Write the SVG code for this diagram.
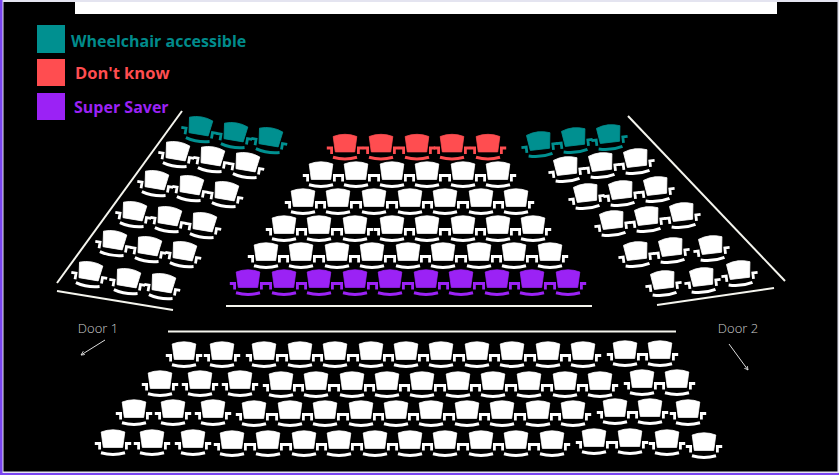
<svg xmlns="http://www.w3.org/2000/svg" xmlns:xlink="http://www.w3.org/1999/xlink" width="839" height="475" viewBox="0 0 839 475">
<style>
.ln{stroke:#f5f5ee;stroke-width:2;fill:none}
.w{color:#fff}.t{color:#009090}.r{color:#ff4d50}.p{color:#9b22f5}
.lg{font-family:"Open Sans",sans-serif;font-weight:700;font-size:16px}
.dr{font-family:"Open Sans",sans-serif;font-weight:300;font-size:13px;fill:#ccc;text-anchor:middle}
.ar{stroke:#ddd;stroke-width:1;fill:none}
</style>
<defs>
<g id="seat">
<path fill="currentColor" stroke="currentColor" stroke-width="0.8" stroke-linejoin="round" d="M-11.8,-7 Q-6,-9.200 0,-9.200 Q6,-9.200 11.8,-7 L9.700,8.400 L-9.700,8.400 Z"/>
<path fill="none" stroke="currentColor" stroke-width="3" d="M-12,13.800 Q0,17 12,13.800"/>
<path fill="none" stroke="currentColor" stroke-width="2.800" d="M-18.200,4.500 H-13.400 V10.500 M13.400,10.500 V4.500 H18.200"/>
</g>
<marker id="ah" markerWidth="5" markerHeight="5" refX="4" refY="2" orient="auto"><path d="M0,0 L4,2 L0,4" fill="none" stroke="#ddd" stroke-width="0.8"/></marker>
</defs>
<rect width="839" height="475" fill="#e4e4f0"/>
<rect x="0" y="0" width="2.500" height="475" fill="#7a45f0"/>
<rect x="0" y="473" width="839" height="2" fill="#7a45f0"/>
<rect x="3.500" y="2" width="834" height="469.500" fill="#000"/>
<rect id="screen" x="75" y="2" width="702" height="12" fill="#fff"/>
<g id="legend">
<rect x="37" y="25" width="28" height="28" fill="#009090"/>
<text class="lg" x="71" y="47" fill="#008b8b">Wheelchair accessible</text>
<rect x="37" y="59" width="28" height="27" fill="#ff4d50"/>
<text class="lg" x="75" y="79" fill="#ff4d50" style="font-size:16.500px">Don't know</text>
<rect x="37" y="93" width="28" height="27" fill="#9b22f5"/>
<text class="lg" x="74" y="113" fill="#9b22f5">Super Saver</text>
</g>
<g id="connectors">
<path class="ln" d="M57,283 L182,111"/>
<path class="ln" d="M57,291 L173,310"/>
<path class="ln" d="M226,306 H592"/>
<path class="ln" d="M168,331.500 H676"/>
<path class="ln" d="M628,116 L785,281"/>
<path class="ln" d="M657,305 L774,288"/>
<path class="ar" d="M105,340 L81,355" marker-end="url(#ah)"/>
<path class="ar" d="M729,344 L748,370" marker-end="url(#ah)"/>
</g>
<g id="door-1"><text class="dr" x="98" y="333">Door 1</text></g>
<g id="door-2"><text class="dr" x="738" y="333">Door 2</text></g>
<g id="left-block">
<g class="t">
<use xlink:href="#seat" href="#seat" transform="translate(200 126) rotate(9.500)"/>
<use xlink:href="#seat" href="#seat" transform="translate(235 132) rotate(9.500)"/>
<use xlink:href="#seat" href="#seat" transform="translate(270 137) rotate(9.500)"/>
</g>
<g class="w">
<use xlink:href="#seat" href="#seat" transform="translate(177 151) rotate(9.500)"/>
<use xlink:href="#seat" href="#seat" transform="translate(212 156) rotate(9.500)"/>
<use xlink:href="#seat" href="#seat" transform="translate(247 162) rotate(9.500)"/>
<use xlink:href="#seat" href="#seat" transform="translate(156 180) rotate(9.500)"/>
<use xlink:href="#seat" href="#seat" transform="translate(191 185) rotate(9.500)"/>
<use xlink:href="#seat" href="#seat" transform="translate(226 191) rotate(9.500)"/>
<use xlink:href="#seat" href="#seat" transform="translate(134 211) rotate(9.500)"/>
<use xlink:href="#seat" href="#seat" transform="translate(169 216) rotate(9.500)"/>
<use xlink:href="#seat" href="#seat" transform="translate(204 222) rotate(9.500)"/>
<use xlink:href="#seat" href="#seat" transform="translate(114 240) rotate(9.500)"/>
<use xlink:href="#seat" href="#seat" transform="translate(149 246) rotate(9.500)"/>
<use xlink:href="#seat" href="#seat" transform="translate(184 251) rotate(9.500)"/>
<use xlink:href="#seat" href="#seat" transform="translate(90 271) rotate(9.500)"/>
<use xlink:href="#seat" href="#seat" transform="translate(128 278) rotate(9.500)"/>
<use xlink:href="#seat" href="#seat" transform="translate(163 283) rotate(9.500)"/>
</g>
</g>
<g id="right-block">
<g class="t">
<use xlink:href="#seat" href="#seat" transform="translate(539 141) rotate(-6.500)"/>
<use xlink:href="#seat" href="#seat" transform="translate(574 137) rotate(-6.500)"/>
<use xlink:href="#seat" href="#seat" transform="translate(609 134) rotate(-6.500)"/>
</g>
<g class="w">
<use xlink:href="#seat" href="#seat" transform="translate(566 166) rotate(-6.500)"/>
<use xlink:href="#seat" href="#seat" transform="translate(601 162) rotate(-6.500)"/>
<use xlink:href="#seat" href="#seat" transform="translate(636 158) rotate(-6.500)"/>
<use xlink:href="#seat" href="#seat" transform="translate(586 193) rotate(-6.500)"/>
<use xlink:href="#seat" href="#seat" transform="translate(621 190) rotate(-6.500)"/>
<use xlink:href="#seat" href="#seat" transform="translate(656 186) rotate(-6.500)"/>
<use xlink:href="#seat" href="#seat" transform="translate(612 220) rotate(-6.500)"/>
<use xlink:href="#seat" href="#seat" transform="translate(647 216) rotate(-6.500)"/>
<use xlink:href="#seat" href="#seat" transform="translate(682 212) rotate(-6.500)"/>
<use xlink:href="#seat" href="#seat" transform="translate(636 251) rotate(-6.500)"/>
<use xlink:href="#seat" href="#seat" transform="translate(671 247) rotate(-6.500)"/>
<use xlink:href="#seat" href="#seat" transform="translate(711 245) rotate(-6.500)"/>
<use xlink:href="#seat" href="#seat" transform="translate(663 280) rotate(-6.500)"/>
<use xlink:href="#seat" href="#seat" transform="translate(702 277) rotate(-6.500)"/>
<use xlink:href="#seat" href="#seat" transform="translate(739 270) rotate(-6.500)"/>
</g>
</g>
<g id="centre-block">
<g class="r">
<use xlink:href="#seat" href="#seat" x="345" y="143.500"/><use xlink:href="#seat" href="#seat" x="381" y="143.500"/><use xlink:href="#seat" href="#seat" x="417" y="143.500"/><use xlink:href="#seat" href="#seat" x="452" y="143.500"/><use xlink:href="#seat" href="#seat" x="488" y="143.500"/>
</g>
<g class="w">
<use xlink:href="#seat" href="#seat" x="321" y="171"/><use xlink:href="#seat" href="#seat" x="356" y="171"/><use xlink:href="#seat" href="#seat" x="392" y="171"/><use xlink:href="#seat" href="#seat" x="427" y="171"/><use xlink:href="#seat" href="#seat" x="463" y="171"/><use xlink:href="#seat" href="#seat" x="498" y="171"/>
<use xlink:href="#seat" href="#seat" x="303" y="198"/><use xlink:href="#seat" href="#seat" x="338" y="198"/><use xlink:href="#seat" href="#seat" x="374" y="198"/><use xlink:href="#seat" href="#seat" x="410" y="198"/><use xlink:href="#seat" href="#seat" x="445" y="198"/><use xlink:href="#seat" href="#seat" x="481" y="198"/><use xlink:href="#seat" href="#seat" x="516" y="198"/>
<use xlink:href="#seat" href="#seat" x="284" y="225"/><use xlink:href="#seat" href="#seat" x="319" y="225"/><use xlink:href="#seat" href="#seat" x="355" y="225"/><use xlink:href="#seat" href="#seat" x="392" y="225"/><use xlink:href="#seat" href="#seat" x="427" y="225"/><use xlink:href="#seat" href="#seat" x="463" y="225"/><use xlink:href="#seat" href="#seat" x="498" y="225"/><use xlink:href="#seat" href="#seat" x="533" y="225"/>
<use xlink:href="#seat" href="#seat" x="266" y="252"/><use xlink:href="#seat" href="#seat" x="301" y="252"/><use xlink:href="#seat" href="#seat" x="337" y="252"/><use xlink:href="#seat" href="#seat" x="372" y="252"/><use xlink:href="#seat" href="#seat" x="408" y="252"/><use xlink:href="#seat" href="#seat" x="443" y="252"/><use xlink:href="#seat" href="#seat" x="479" y="252"/><use xlink:href="#seat" href="#seat" x="514" y="252"/><use xlink:href="#seat" href="#seat" x="550" y="252"/>
</g>
<g class="p">
<use xlink:href="#seat" href="#seat" x="248" y="279"/><use xlink:href="#seat" href="#seat" x="284" y="279"/><use xlink:href="#seat" href="#seat" x="319" y="279"/><use xlink:href="#seat" href="#seat" x="355" y="279"/><use xlink:href="#seat" href="#seat" x="390" y="279"/><use xlink:href="#seat" href="#seat" x="426" y="279"/><use xlink:href="#seat" href="#seat" x="461" y="279"/><use xlink:href="#seat" href="#seat" x="497" y="279"/><use xlink:href="#seat" href="#seat" x="532" y="279"/><use xlink:href="#seat" href="#seat" x="568" y="279"/>
</g>
</g>
<g id="front-block" class="w">
<use xlink:href="#seat" href="#seat" x="184" y="351"/><use xlink:href="#seat" href="#seat" x="222" y="351"/><use xlink:href="#seat" href="#seat" x="264" y="351"/><use xlink:href="#seat" href="#seat" x="300" y="351"/><use xlink:href="#seat" href="#seat" x="335" y="351"/><use xlink:href="#seat" href="#seat" x="371" y="351"/><use xlink:href="#seat" href="#seat" x="406" y="351"/><use xlink:href="#seat" href="#seat" x="441" y="351"/><use xlink:href="#seat" href="#seat" x="477" y="351"/><use xlink:href="#seat" href="#seat" x="512" y="351"/><use xlink:href="#seat" href="#seat" x="548" y="351"/><use xlink:href="#seat" href="#seat" x="583" y="351"/><use xlink:href="#seat" href="#seat" x="625" y="350"/><use xlink:href="#seat" href="#seat" x="660" y="350"/>
<use xlink:href="#seat" href="#seat" x="160" y="380"/><use xlink:href="#seat" href="#seat" x="200" y="380"/><use xlink:href="#seat" href="#seat" x="240" y="380"/><use xlink:href="#seat" href="#seat" x="281" y="381"/><use xlink:href="#seat" href="#seat" x="316" y="381"/><use xlink:href="#seat" href="#seat" x="352" y="381"/><use xlink:href="#seat" href="#seat" x="387" y="381"/><use xlink:href="#seat" href="#seat" x="422" y="381"/><use xlink:href="#seat" href="#seat" x="458" y="381"/><use xlink:href="#seat" href="#seat" x="493" y="381"/><use xlink:href="#seat" href="#seat" x="529" y="381"/><use xlink:href="#seat" href="#seat" x="565" y="381"/><use xlink:href="#seat" href="#seat" x="600" y="381"/><use xlink:href="#seat" href="#seat" x="642" y="379"/><use xlink:href="#seat" href="#seat" x="677" y="379"/>
<use xlink:href="#seat" href="#seat" x="134" y="409"/><use xlink:href="#seat" href="#seat" x="173" y="409"/><use xlink:href="#seat" href="#seat" x="213" y="409"/><use xlink:href="#seat" href="#seat" x="254" y="410"/><use xlink:href="#seat" href="#seat" x="290" y="410"/><use xlink:href="#seat" href="#seat" x="325" y="410"/><use xlink:href="#seat" href="#seat" x="361" y="410"/><use xlink:href="#seat" href="#seat" x="396" y="410"/><use xlink:href="#seat" href="#seat" x="431" y="410"/><use xlink:href="#seat" href="#seat" x="467" y="410"/><use xlink:href="#seat" href="#seat" x="502" y="410"/><use xlink:href="#seat" href="#seat" x="538" y="410"/><use xlink:href="#seat" href="#seat" x="573" y="410"/><use xlink:href="#seat" href="#seat" x="615" y="408"/><use xlink:href="#seat" href="#seat" x="650" y="408"/><use xlink:href="#seat" href="#seat" x="688" y="409"/>
<use xlink:href="#seat" href="#seat" x="113" y="439"/><use xlink:href="#seat" href="#seat" x="152" y="439"/><use xlink:href="#seat" href="#seat" x="193" y="439"/><use xlink:href="#seat" href="#seat" x="232" y="440"/><use xlink:href="#seat" href="#seat" x="268" y="440"/><use xlink:href="#seat" href="#seat" x="304" y="440"/><use xlink:href="#seat" href="#seat" x="339" y="440"/><use xlink:href="#seat" href="#seat" x="375" y="440"/><use xlink:href="#seat" href="#seat" x="410" y="440"/><use xlink:href="#seat" href="#seat" x="445" y="440"/><use xlink:href="#seat" href="#seat" x="481" y="440"/><use xlink:href="#seat" href="#seat" x="516" y="440"/><use xlink:href="#seat" href="#seat" x="552" y="440"/><use xlink:href="#seat" href="#seat" x="594" y="438"/><use xlink:href="#seat" href="#seat" x="630" y="438"/><use xlink:href="#seat" href="#seat" x="667" y="439"/><use xlink:href="#seat" href="#seat" x="704" y="442"/>
</g>
</svg>
